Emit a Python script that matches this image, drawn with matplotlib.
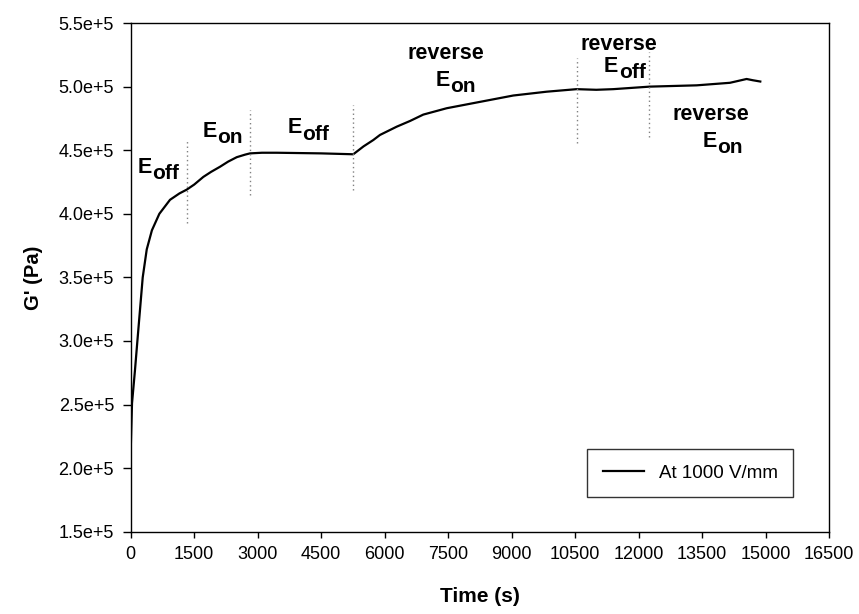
import matplotlib
matplotlib.use("Agg")
import matplotlib.pyplot as plt

plt.rcParams['font.family'] = ['Liberation Sans', 'DejaVu Sans']

# data
time_s = [0, 30, 100, 157, 220, 283, 378, 500, 676, 928, 1150, 1323, 1500, 1715,
          1900, 2110, 2300, 2504, 2700, 2818, 3100, 3449, 4500, 5258, 5500, 5731,
          5889, 6284, 6600, 6912, 7465, 8251, 9038, 9826, 10535, 11000, 11400,
          12267, 13370, 14157, 14551, 14700, 14874]
g_prime = [2.15e5, 2.51e5, 2.77e5, 3.00e5, 3.25e5, 3.50e5, 3.72e5, 3.87e5, 4.00e5,
           4.11e5, 4.16e5, 4.19e5, 4.23e5, 4.29e5, 4.33e5, 4.37e5, 4.41e5, 4.445e5,
           4.465e5, 4.475e5, 4.48e5, 4.48e5, 4.475e5, 4.468e5, 4.53e5, 4.58e5,
           4.62e5, 4.685e5, 4.73e5, 4.78e5, 4.83e5, 4.88e5, 4.93e5, 4.96e5, 4.98e5,
           4.975e5, 4.98e5, 5.0e5, 5.01e5, 5.03e5, 5.06e5, 5.05e5, 5.04e5]

divider_times = [1323, 2818, 5258, 10535, 12254]
divider_low = [3.93e5, 4.15e5, 4.19e5, 4.56e5, 4.60e5]
divider_high = [4.58e5, 4.82e5, 4.855e5, 5.225e5, 5.27e5]

# "E" + subscript labels: anchor = junction between E and subscript, on E baseline
e_subscripts = ['off', 'on', 'off', 'on', 'off', 'on']
e_t = [496, 2031, 4039, 7543, 11518, 13851]
e_g = [4.321e5, 4.606e5, 4.633e5, 5.005e5, 5.117e5, 4.527e5]
# "reverse" words above some labels (centre, baseline)
rev_words = ['reverse', 'reverse', 'reverse']
rev_t = [7443, 11540, 13702]
rev_g = [5.215e5, 5.288e5, 4.737e5]

x_ticks = [0, 1500, 3000, 4500, 6000, 7500, 9000, 10500, 12000, 13500, 15000, 16500]
y_ticks = [1.5e5, 2.0e5, 2.5e5, 3.0e5, 3.5e5, 4.0e5, 4.5e5, 5.0e5, 5.5e5]
y_tick_labels = ['1.5e+5', '2.0e+5', '2.5e+5', '3.0e+5', '3.5e+5', '4.0e+5',
                 '4.5e+5', '5.0e+5', '5.5e+5']

fig = plt.figure(figsize=(8.59, 6.14), dpi=100)
ax = fig.add_axes([0.1522, 0.134, 0.813, 0.8285])

ax.plot(time_s, g_prime, color='black', lw=1.6, label='At 1000 V/mm')

for t, lo, hi in zip(divider_times, divider_low, divider_high):
    ax.plot([t, t], [lo, hi], color='#808080', lw=1.0, ls=(0, (1, 2.2)))

fs = 15.5
for sub, t, g in zip(e_subscripts, e_t, e_g):
    ax.text(t, g, 'E', ha='right', va='baseline', fontsize=fs, fontweight='bold')
    ax.annotate(sub, xy=(t, g), xytext=(0.3, -4.5), textcoords='offset points',
                ha='left', va='baseline', fontsize=fs - 0.5, fontweight='bold')
for w, t, g in zip(rev_words, rev_t, rev_g):
    ax.text(t, g, w, ha='center', va='baseline', fontsize=fs, fontweight='bold')

ax.set_xlim(0, 16500)
ax.set_ylim(1.5e5, 5.5e5)
ax.set_xticks(x_ticks)
ax.set_xticklabels([str(v) for v in x_ticks])
ax.set_yticks(y_ticks)
ax.set_yticklabels(y_tick_labels)
ax.tick_params(axis='x', direction='out', length=4.5, width=1, labelsize=13,
               colors='black', pad=6)
ax.tick_params(axis='y', direction='out', length=6, width=1, labelsize=13,
               colors='black', pad=6)
for sp in ax.spines.values():
    sp.set_linewidth(1.0)

ax.set_xlabel('Time (s)', fontsize=15, fontweight='bold', labelpad=17)
ax.set_ylabel("G' (Pa)", fontsize=14.5, fontweight='bold', labelpad=11)

leg = ax.legend(loc='lower right', bbox_to_anchor=(0.9485, 0.068), fontsize=13.5,
                frameon=True, fancybox=False, edgecolor='black', handlelength=2.2,
                handletextpad=0.8, borderpad=0.82, borderaxespad=0)
leg.get_frame().set_linewidth(1.0)

fig.savefig('out.png', dpi=100)
